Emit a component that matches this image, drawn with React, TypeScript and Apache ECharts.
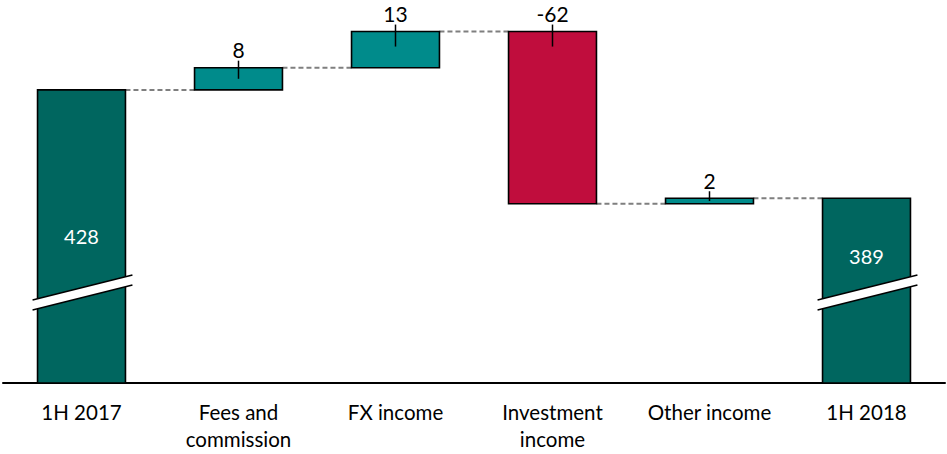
import React, { useEffect, useRef } from "react";
import * as echarts from "echarts";

const categories = ["1H 2017", "Fees and\ncommission", "FX income", "Investment\nincome", "Other income", "1H 2018"];
const values = [428, 8, 13, -62, 2, 389];
const isTotal = [true, false, false, false, false, true];

const AXIS_MIN = 322.5;
const AXIS_MAX = 460;
const BREAK_AT = 355;

const COLORS = ["#00665F", "#008B8B", "#C00D3D"];
const TOTAL_LABEL_FRAC = [0.5, 0.315];
const FONT = "Lato, 'Open Sans', sans-serif";

function buildRows() {
  let run = 0;
  return values.map((v, i) => {
    if (isTotal[i]) {
      run = v;
      return [i, AXIS_MIN, v, 0, v];
    }
    const s = run;
    run = s + v;
    return [i, Math.min(s, run), Math.max(s, run), v >= 0 ? 1 : 2, run];
  });
}

export default function App() {
  const ref = useRef<HTMLDivElement>(null);
  useEffect(() => {
    if (!ref.current) return;
    const chart = echarts.init(ref.current, null, { renderer: "svg" });
    const rows = buildRows();
    let totalIdx = 0;
    const totalOrder: Record<number, number> = {};
    isTotal.forEach((t, i) => {
      if (t) totalOrder[i] = totalIdx++;
    });

    const renderItem = (params: any, api: any) => {
      const i = api.value(0);
      const lo = api.value(1);
      const hi = api.value(2);
      const kind = api.value(3);
      const end = api.value(4);
      const top = api.coord([i, hi]);
      const bot = api.coord([i, lo]);
      const cx = top[0];
      const w = api.size([1, 0])[0] * 0.56;
      const children: any[] = [];
      if (i < categories.length - 1) {
        const nx = api.coord([i + 1, end])[0];
        const ey = api.coord([i, end])[1];
        children.push({
          type: "line",
          shape: { x1: cx + w / 2, y1: ey, x2: nx - w / 2, y2: ey },
          style: { stroke: "#7f7f7f", lineWidth: 2, lineDash: [5, 3] },
        });
      }
      children.push({
        type: "rect",
        shape: { x: cx - w / 2, y: top[1], width: w, height: bot[1] - top[1] },
        style: { fill: COLORS[kind], stroke: "#000", lineWidth: 1.6 },
      });
      if (kind === 0) {
        const yc = api.coord([i, BREAK_AT])[1];
        const xL = cx - w / 2 - 5;
        const xR = cx + w / 2 + 7;
        const s = 0.25;
        const topAt = (x: number) => yc - 5 - s * (x - cx);
        children.push({
          type: "polygon",
          shape: {
            points: [
              [xL, topAt(xL)],
              [xR, topAt(xR)],
              [xR, topAt(xR) + 10],
              [xL, topAt(xL) + 10],
            ],
          },
          style: { fill: "#fff" },
        });
        children.push({
          type: "line",
          shape: { x1: xL, y1: topAt(xL), x2: xR, y2: topAt(xR) },
          style: { stroke: "#000", lineWidth: 1.5 },
        });
        children.push({
          type: "line",
          shape: { x1: xL, y1: topAt(xL) + 10, x2: xR, y2: topAt(xR) + 10 },
          style: { stroke: "#000", lineWidth: 1.5 },
        });
        const frac = TOTAL_LABEL_FRAC[totalOrder[i]] ?? 0.5;
        children.push({
          type: "text",
          style: {
            text: String(values[i]),
            x: cx,
            y: top[1] + frac * (bot[1] - top[1]),
            align: "center",
            verticalAlign: "middle",
            fontSize: 20,
            fontFamily: FONT,
            fill: "#fff",
          },
        });
      } else {
        const tickBottom = Math.min(top[1] + 15, (top[1] + bot[1]) / 2);
        children.push({
          type: "line",
          shape: { x1: cx, y1: top[1] - 7, x2: cx, y2: tickBottom },
          style: { stroke: "#000", lineWidth: 1.5 },
        });
        children.push({
          type: "text",
          style: {
            text: String(values[i]),
            x: cx,
            y: top[1] - 18,
            align: "center",
            verticalAlign: "middle",
            fontSize: 21,
            fontFamily: FONT,
            fill: "#000",
          },
        });
      }
      return { type: "group", children };
    };

    chart.setOption({
      animation: false,
      grid: { left: 3, right: 2, top: 1, bottom: 71, containLabel: false, outerBoundsMode: "none" },
      xAxis: {
        type: "category",
        data: categories,
        axisTick: { show: false },
        axisLine: { lineStyle: { color: "#000", width: 2 } },
        axisLabel: {
          interval: 0,
          margin: 15,
          fontSize: 20.5,
          lineHeight: 27,
          color: "#000",
          fontFamily: FONT,
        },
      },
      yAxis: {
        type: "value",
        min: AXIS_MIN,
        max: AXIS_MAX,
        show: false,
        splitLine: { show: false },
      },
      series: [
        {
          type: "custom",
          renderItem,
          clip: false,
          encode: { x: 0, y: [1, 2] },
          data: rows,
        },
      ],
    });
    return () => chart.dispose();
  }, []);
  return (
    <div
      ref={ref}
      style={{ position: "fixed", left: 0, top: 0, width: 947, height: 454, background: "#fff" }}
    />
  );
}
